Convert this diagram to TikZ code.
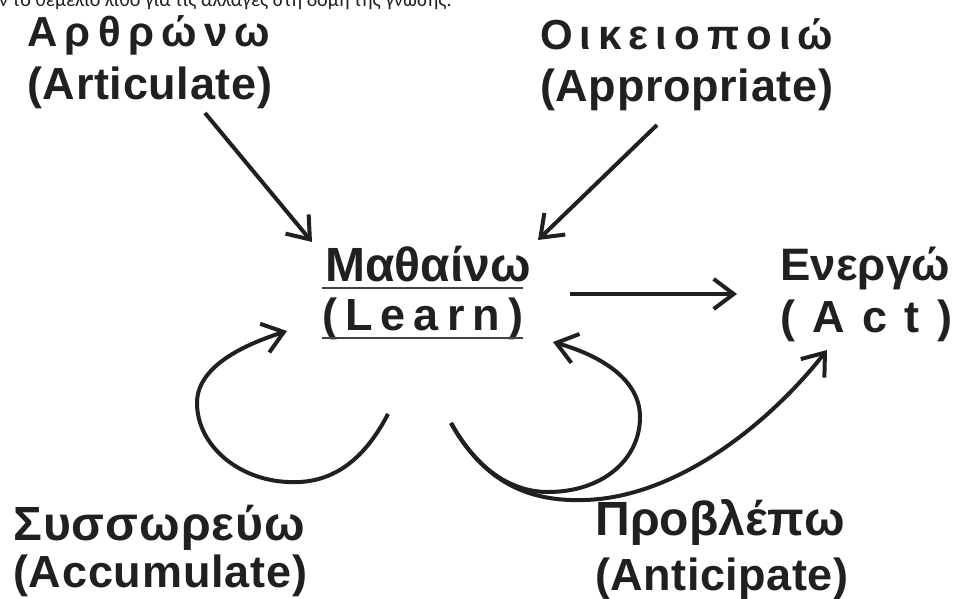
\documentclass[tikz,border=0pt]{standalone}
\usepackage{fontspec}
\setmainfont{Liberation Sans}
\newfontfamily\capfont{Carlito}
\usetikzlibrary{arrows.meta}
\definecolor{ink}{RGB}{35,31,32}

% spread the letters of a word evenly over a given width
\makeatletter
\def\spreadletters#1{\spr@a#1\relax}
\def\spr@a#1{\ifx#1\relax\else#1\expandafter\spr@b\fi}
\def\spr@b#1{\ifx#1\relax\else\hfil#1\expandafter\spr@b\fi}
\makeatother
\newcommand\spreadto[2]{\makebox[#1][s]{\spreadletters{#2}}}

\tikzset{
  lbl/.style={inner sep=0pt, anchor=base west, text=ink,
              font=\bfseries\fontsize{45}{50}\selectfont},
  grk/.style={lbl, font=\bfseries\fontsize{48}{54}\selectfont},
  grkmd/.style={lbl, font=\bfseries\fontsize{45.5}{52}\selectfont},
  grksm/.style={lbl, font=\bfseries\fontsize{42}{48}\selectfont},
  flow/.style={draw=ink, line width=4pt,
               -{Straight Barb[length=20pt,width=30pt]}},
  loop/.style={flow},
  uline/.style={draw=ink!85, line width=1.6pt},
}

\begin{document}
\begin{tikzpicture}[x=1pt,y=-1pt]
  \fill[white] (0,0) rectangle (956,599);
  \useasboundingbox (0,0) rectangle (956,599);

  % last line of the preceding paragraph, running off the top edge
  \node[anchor=base west, inner sep=0pt, text=ink,
        font=\capfont\fontsize{20}{24}\selectfont] (capline) at (-1,7)
        {ν το θεμέλιο λίθο για τις αλλαγές στη δομή της γνώσης.};

  % labels
  \node[grksm] (artGr) at (27,47)  {\spreadto{243pt}{Αρθρώνω}};
  \node[lbl] (artEn) at (27,100)   {\spreadto{245pt}{(Articulate)}};
  \node[grksm] (appGr) at (540,50) {\spreadto{293pt}{Οικειοποιώ}};
  \node[lbl] (appEn) at (540,102)  {\spreadto{293pt}{(Appropriate)}};
  \node[grk] (lrnGr) at (325,281)  {\spreadto{195pt}{Μαθαίνω}};
  \node[lbl] (lrnEn) at (322,330)  {\spreadto{201pt}{(Learn)}};
  \node[grkmd] (actGr) at (780,280){\spreadto{170pt}{Ενεργώ}};
  \node[lbl] (actEn) at (780,332)  {\spreadto{172pt}{(Act)}};
  \node[grk] (accGr) at (13,540)   {\spreadto{292pt}{Συσσωρεύω}};
  \node[lbl] (accEn) at (13,587)   {\spreadto{294pt}{(Accumulate)}};
  \node[grk] (antGr) at (595,535)  {\spreadto{250pt}{Προβλέπω}};
  \node[lbl] (antEn) at (595,590)  {\spreadto{253pt}{(Anticipate)}};

  % underlines of the central term
  \draw[uline] ([xshift=-3pt,yshift=-7pt]lrnGr.base west)
            -- ([xshift=3pt,yshift=-7pt]lrnGr.base east);
  \draw[uline] ([yshift=-8pt]lrnEn.base west)
            -- ([yshift=-8pt]lrnEn.base east);

  % connector end points
  \coordinate (artOut) at (205,113);
  \coordinate (lrnInL) at (312,242);
  \coordinate (appOut) at (657,125);
  \coordinate (lrnInR) at (538,240);
  \coordinate (lrnOut) at (570,294);
  \coordinate (actInL) at (737,294);
  \coordinate (accOut) at (388,414);
  \coordinate (lrnInA) at (287,331);
  \coordinate (antOut) at (451,423);
  \coordinate (lrnInB) at (553,342);
  \coordinate (actInB) at (827,350);

  % straight connectors
  \draw[flow] (artOut) -- (lrnInL);
  \draw[flow] (appOut) -- (lrnInR);
  \draw[flow] (lrnOut) -- (actInL);

  % accumulate loop
  \draw[loop] (accOut) .. controls (360,468) and (325,484) .. (288,482)
              .. controls (238,480) and (197,445) .. (197,403)
              .. controls (197,368) and (240,346) .. (lrnInA);

  % anticipate loop back to learning
  \draw[loop] (antOut) .. controls (476,468) and (510,492) .. (548,492)
              .. controls (602,492) and (640,460) .. (640,417)
              .. controls (640,380) and (602,356) .. (lrnInB);

  % anticipate branch on to acting
  \draw[loop] (antOut) .. controls (484,482) and (528,502) .. (585,500)
              .. controls (680,497) and (772,420) .. (actInB);
\end{tikzpicture}
\end{document}
